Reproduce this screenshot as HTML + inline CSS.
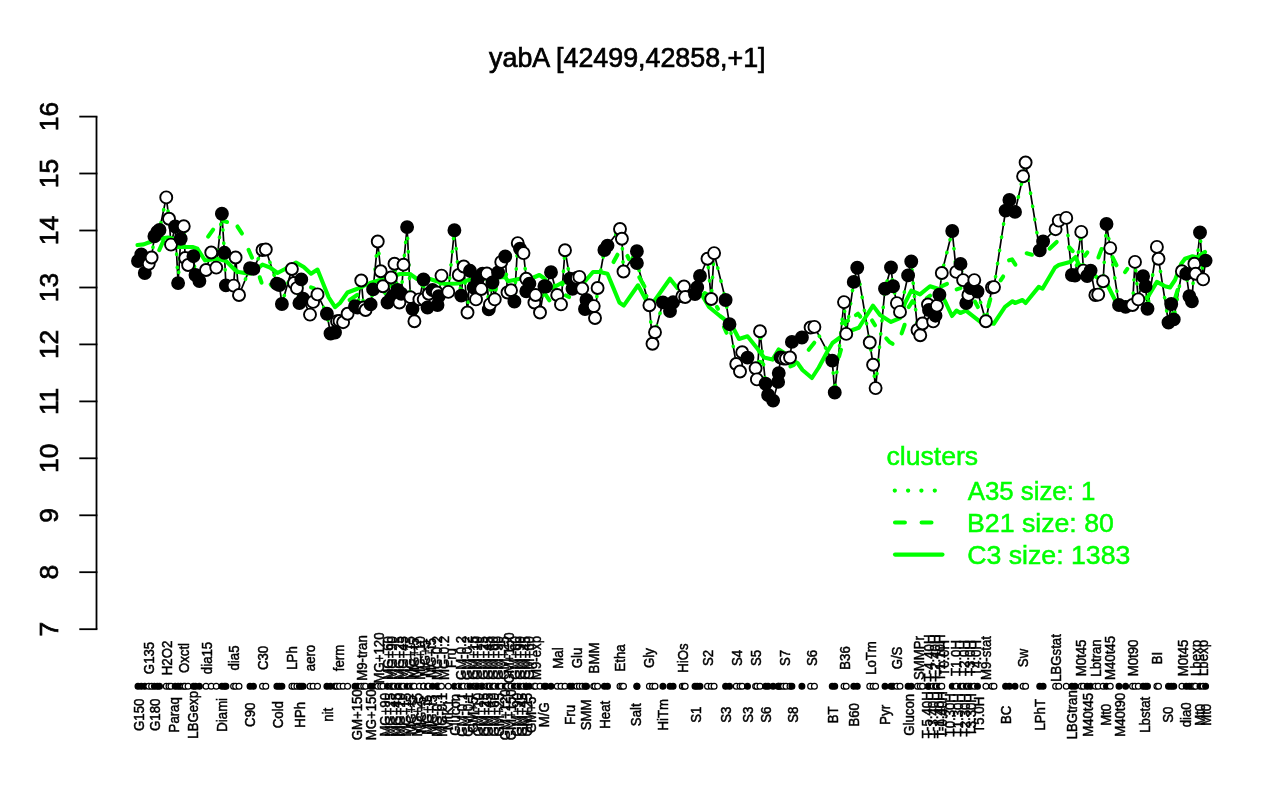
<!DOCTYPE html>
<html><head><meta charset="utf-8"><title>yabA</title>
<style>html,body{margin:0;padding:0;background:#fff;}body{width:1280px;height:800px;overflow:hidden;}svg{display:block;will-change:transform;}text{font-family:"Liberation Sans",sans-serif;}</style>
</head><body>
<svg width="1280" height="800" viewBox="0 0 1280 800">
<defs><filter id="soft" x="0" y="0" width="1280" height="800" filterUnits="userSpaceOnUse"><feGaussianBlur stdDeviation="0.35"/></filter></defs>
<rect x="0" y="0" width="1280" height="800" fill="#ffffff"/>
<g filter="url(#soft)">
<text x="627.3" y="67.2" font-size="26.8" text-anchor="middle" fill="#000" stroke="#000" stroke-width="0.7">yabA [42499,42858,+1]</text>
<g stroke="#000" stroke-width="1.8" fill="none" stroke-linecap="butt">
<path d="M96.5 116.6 V629.2"/>
<path d="M79.3 116.6 H97.4"/>
<path d="M79.3 173.5 H97.4"/>
<path d="M79.3 230.5 H97.4"/>
<path d="M79.3 287.5 H97.4"/>
<path d="M79.3 344.4 H97.4"/>
<path d="M79.3 401.4 H97.4"/>
<path d="M79.3 458.3 H97.4"/>
<path d="M79.3 515.3 H97.4"/>
<path d="M79.3 572.2 H97.4"/>
<path d="M79.3 629.2 H97.4"/>
</g>
<g font-size="26.4" text-anchor="middle" fill="#000" stroke="#000" stroke-width="0.7">
<text transform="translate(58 116.6) rotate(-90)">16</text>
<text transform="translate(58 173.5) rotate(-90)">15</text>
<text transform="translate(58 230.5) rotate(-90)">14</text>
<text transform="translate(58 287.5) rotate(-90)">13</text>
<text transform="translate(58 344.4) rotate(-90)">12</text>
<text transform="translate(58 401.4) rotate(-90)">11</text>
<text transform="translate(58 458.3) rotate(-90)">10</text>
<text transform="translate(58 515.3) rotate(-90)">9</text>
<text transform="translate(58 572.2) rotate(-90)">8</text>
<text transform="translate(58 629.2) rotate(-90)">7</text>
</g>
<path d="M138 261 L141.3 254.5 L144.8 273 L148.75 263.75 L151.6 257.5 L154.4 236.25 L157.25 232 L159.5 230 L166.25 197.4 L169 218.75 L171 244.6 L175.2 226.5 L178.1 283.1 L180.7 238.75 L183.75 226.25 L185.2 258 L188.1 265 L193.4 256.2 L195.5 275 L199.4 281 L206 270 L211.25 252.5 L216.25 267.6 L221.9 213.75 L224.4 252.8 L225.9 285.4 L233.6 285.6 L235.6 257.5 L239 295 L250 268.1 L253.4 268.9 L262.5 250 L265.8 249.5 L276.9 283.75 L279.4 285 L281.9 304 L291.9 269 L294 283 L296.9 288.1 L299.4 303.1 L301.25 279.4 L303.1 298.75 L310 314.6 L313.1 301.9 L317.5 294.4 L326.9 313.75 L330.5 333.5 L335 332.5 L337 321.25 L339.5 321 L343.1 322.2 L347.6 313.75 L355 306.25 L357.5 307.5 L361.25 280.5 L363.75 307.5 L365.6 310 L370.6 304.4 L373.1 289.4 L377.75 241.5 L380.7 271.25 L382.9 286.25 L387.5 302.5 L391 277.5 L392.5 296.25 L394.5 263.75 L397.5 290 L399.4 302.5 L401.25 293.75 L403.5 264.7 L407.1 227.1 L410.4 297.2 L412.5 308.75 L414.4 321.25 L419.4 299.4 L423.5 279.5 L423.75 299.4 L427.5 307.5 L428.75 293.75 L432.5 290 L436.9 292.5 L437.5 305 L438.75 296.25 L441.5 275.6 L448.3 291.9 L454.4 230.25 L458.75 275 L461.25 295.6 L463.75 266.5 L467.5 312.5 L470 270.8 L473.75 287.5 L476 299.4 L477.5 280 L481.25 289 L482.5 273.75 L486.9 273.5 L488.75 309.4 L490 304.4 L492.5 282.5 L494.75 299.4 L498.1 272.5 L501.25 261.9 L505.25 256.5 L507.5 292.5 L511 290.25 L514.4 301.5 L517.75 243.1 L520 248.75 L523.5 253.1 L526.25 278.75 L526.25 291.25 L529.4 283.75 L534.4 302.5 L535.6 295 L540 312.5 L544.4 286.25 L546 286.6 L551 272.25 L557.25 295 L561 304.4 L565 250.25 L570 278.75 L572.5 288.75 L576.9 278 L579.4 276.9 L582.25 288.6 L585 309 L586.5 300 L593.75 306.1 L595 318 L597.6 288 L604.4 250 L607.5 245.6 L620 229 L621.9 238.75 L623.5 271.5 L636.9 251.25 L636.9 263.1 L649.4 305.25 L652.5 343.75 L655 332.25 L662.9 302.4 L670 311 L673.1 302.3 L682.3 296.25 L684 286.5 L685.2 297 L695 294 L697.2 287.5 L700 276 L707.5 258.75 L711.25 299 L714.1 253.1 L725.6 300 L729.5 324.2 L736.25 364 L740 371.5 L742.2 352.2 L747.5 357.6 L755.6 368.3 L756.9 379.4 L760 331.25 L765.6 383.75 L768.1 395 L773.1 400.6 L778.1 381.9 L778.75 373.1 L780.6 357.5 L783.5 358.5 L786 358.5 L790 357.5 L791.9 341.9 L801.9 337.5 L810.6 327.5 L814.4 326.9 L832.25 360.6 L834.75 392.5 L844 302.1 L846.25 333.9 L853.75 281.9 L857.25 267.75 L869.75 342.5 L873.1 364.75 L875.6 388.1 L885 288.75 L891 267.5 L893.1 286.25 L896.9 303.1 L900 311.9 L908.1 275.4 L911.25 261.5 L917.5 330 L920.25 335.25 L922.5 323.5 L928 304.5 L929 310 L933.2 321.4 L935.5 315.7 L936.9 305.8 L939.4 294.6 L941.8 273 L952.25 231 L956.25 271.9 L960.5 263.9 L963.1 280.1 L966.25 303.1 L968.4 295 L970.6 288 L974.3 280.1 L977.5 291.5 L985.9 321.25 L992 287.5 L994 287.1 L1005.6 210.6 L1009.4 200 L1015 211.9 L1023.1 176.25 L1025.6 162.5 L1039.75 250.4 L1043.1 241.5 L1055.6 229.2 L1058.75 220.6 L1066.25 217.9 L1071.9 275 L1075 275.5 L1081.25 231.9 L1083.4 270.6 L1087.2 276 L1090.6 270.6 L1095.4 295 L1098.2 294.6 L1103.1 281.25 L1106.5 224 L1110.25 248.1 L1119 305 L1125.6 306.9 L1132.5 305 L1135 261.9 L1138.3 299.4 L1143.1 276.25 L1145.6 286.25 L1147.5 308.75 L1156.9 246.9 L1158.5 258.75 L1168.5 322.5 L1171.25 304 L1173.75 319.4 L1181.9 271.25 L1186.25 273.75 L1189.4 296.25 L1191.9 301.25 L1194.4 263.75 L1195.6 273.75 L1200 232.5 L1203.1 279.4 L1205.6 260.6" fill="none" stroke="#000" stroke-width="1.7" stroke-linejoin="round"/>
<path d="M137.5 245 L143.75 244.4 L151.9 241.25 L160 238.5 L168 237.5 L174 240 L177.5 247 L192.5 247 L197.5 248.75 L205 260.5 L217.5 258.75 L226 261 L235 270 L238.75 272 L246 273.3 L251 273.75 L262.5 264.6 L270 267.5 L277.5 273 L285 269 L296 262.5 L303.75 267 L311 273.75 L317.5 269.6 L322.5 282 L328.75 297.5 L335 307.2 L340 303 L347.5 292.5 L357.5 288.75 L370 283 L380 280 L390 277 L400 274 L410 274 L417 279 L430 279 L445 284 L457.5 283.5 L468.75 280 L480 279 L492 278 L505 276.9 L508 281.25 L520 278.75 L532.5 278 L539.4 275 L543.75 278 L552.5 288 L562.5 282.5 L575 282 L585 281.25 L593 272 L600 272 L607.5 273.75 L619.4 302.5 L623.75 305.6 L638 285.3 L646 300 L650 305 L655 300 L670 278.75 L677.5 288.2 L690 291 L702 295 L709 307 L720 316 L723.75 318.75 L733.75 329 L739 339 L747.5 336.25 L757.5 348.75 L764 357.5 L772.5 359.6 L778.75 349.4 L786 354 L792 360 L797.5 363 L802.5 370 L811.9 378 L818.75 367.5 L827.5 351.25 L832.5 343 L840 337.5 L852.5 330 L858.75 327.8 L865 318 L873 305.6 L880 315 L891 321.9 L900 318 L905 303 L911.25 290.6 L920 294.4 L930 286.25 L938.75 289 L946.25 303.75 L952 316 L956.5 310.6 L960.3 313 L966 310.6 L980 321.6 L993.75 323.75 L1005 306.9 L1012.5 301.25 L1015 303 L1022.5 300 L1025.6 303 L1038.75 286.9 L1042.5 288.75 L1055 267.5 L1058.75 265 L1070 262 L1075.6 257 L1078.75 264.5 L1088 270 L1096.25 276.9 L1107.5 285 L1115 300 L1125 303 L1138 301 L1147.5 297.5 L1156.9 281.9 L1165 286.25 L1170 287.5 L1175 280 L1181.25 263.75 L1185 258.75 L1192.5 256.25 L1197.5 257.5 L1205 251.9" fill="none" stroke="#00ff00" stroke-width="4.1" stroke-linejoin="round" stroke-linecap="round"/>
<g fill="none" stroke="#00ff00" stroke-width="4.1" stroke-linejoin="round" stroke-linecap="round">
<path d="M159.2 250.24 L163.3 241.01"/>
<path d="M208.14 236.6 L213.11 229.65"/>
<path d="M222.96 220.88 L227.04 221.97"/>
<path d="M237.49 226.53 L241.91 233.47"/>
<path d="M248.54 249.76 L252.06 257.74"/>
<path d="M259.75 277.29 L261.55 282.71"/>
<path d="M270.69 284.36 L272 286"/>
<path d="M311.04 287.36 L313.96 288.39"/>
<path d="M349.66 299.99 L357.09 295.01"/>
<path d="M490.46 289.72 L495.84 288.28"/>
<path d="M545.61 294.67 L549.39 300.33"/>
<path d="M565.98 295.49 L569.02 297.01"/>
<path d="M613.52 262.03 L617.48 254.72"/>
<path d="M627.39 255.98 L628.91 259.02"/>
<path d="M639.28 277.21 L644.47 286.54"/>
<path d="M704.71 293.04 L709.04 295.46"/>
<path d="M716.84 306.93 L718 308.75"/>
<path d="M723.95 327 L726.55 332.75"/>
<path d="M758.58 361.7 L761.92 362.3"/>
<path d="M790.4 366.45 L794 364.85"/>
<path d="M808.69 349.74 L814.31 342.76"/>
<path d="M839.05 356.44 L840.95 349.81"/>
<path d="M842.01 323.31 L847.99 320.74"/>
<path d="M855.91 315.18 L858 313.75 L860.31 316.64"/>
<path d="M872.07 320.44 L875.03 325.31"/>
<path d="M886.32 338.33 L889.5 342 L892.56 343.83"/>
<path d="M901.62 333.36 L904.63 324.79"/>
<path d="M908.61 307.08 L912.5 301.25 L914.18 302.76"/>
<path d="M926.88 298.09 L930.12 295.66"/>
<path d="M942.01 286.15 L946.99 283.95"/>
<path d="M956.65 289.36 L960.45 288.14"/>
<path d="M974.92 301.57 L977.88 307.03"/>
<path d="M988.29 306.44 L990.31 299.06"/>
<path d="M1000.61 280.33 L1003.14 276.52"/>
<path d="M1009.05 260.28 L1012 259.4 L1015.4 264.68"/>
<path d="M1026.66 253.29 L1031.94 254.71"/>
<path d="M1049.55 248.65 L1056.7 242"/>
<path d="M1069.12 247.08 L1072.68 251.17"/>
<path d="M1084.87 255.63 L1087.33 252.47"/>
<path d="M1098.39 257.47 L1101.61 249.03"/>
<path d="M1112.49 257.23 L1116.51 265.27"/>
<path d="M1125.04 272.11 L1127.36 268.89"/>
<path d="M1175.32 297.7 L1177.68 289.8"/>
<path d="M1199.68 255.67 L1204.67 252.58"/>
</g>
<path d="M138 261 L141.3 254.5 L144.8 273 L148.75 263.75 L151.6 257.5 L154.4 236.25 L157.25 232 L159.5 230 L166.25 197.4 L169 218.75 L171 244.6 L175.2 226.5 L178.1 283.1 L180.7 238.75 L183.75 226.25 L185.2 258 L188.1 265 L193.4 256.2 L195.5 275 L199.4 281 L206 270 L211.25 252.5 L216.25 267.6 L221.9 213.75 L224.4 252.8 L225.9 285.4 L233.6 285.6 L235.6 257.5 L239 295 L250 268.1 L253.4 268.9 L262.5 250 L265.8 249.5 L276.9 283.75 L279.4 285 L281.9 304 L291.9 269 L294 283 L296.9 288.1 L299.4 303.1 L301.25 279.4 L303.1 298.75 L310 314.6 L313.1 301.9 L317.5 294.4 L326.9 313.75 L330.5 333.5 L335 332.5 L337 321.25 L339.5 321 L343.1 322.2 L347.6 313.75 L355 306.25 L357.5 307.5 L361.25 280.5 L363.75 307.5 L365.6 310 L370.6 304.4 L373.1 289.4 L377.75 241.5 L380.7 271.25 L382.9 286.25 L387.5 302.5 L391 277.5 L392.5 296.25 L394.5 263.75 L397.5 290 L399.4 302.5 L401.25 293.75 L403.5 264.7 L407.1 227.1 L410.4 297.2 L412.5 308.75 L414.4 321.25 L419.4 299.4 L423.5 279.5 L423.75 299.4 L427.5 307.5 L428.75 293.75 L432.5 290 L436.9 292.5 L437.5 305 L438.75 296.25 L441.5 275.6 L448.3 291.9 L454.4 230.25 L458.75 275 L461.25 295.6 L463.75 266.5 L467.5 312.5 L470 270.8 L473.75 287.5 L476 299.4 L477.5 280 L481.25 289 L482.5 273.75 L486.9 273.5 L488.75 309.4 L490 304.4 L492.5 282.5 L494.75 299.4 L498.1 272.5 L501.25 261.9 L505.25 256.5 L507.5 292.5 L511 290.25 L514.4 301.5 L517.75 243.1 L520 248.75 L523.5 253.1 L526.25 278.75 L526.25 291.25 L529.4 283.75 L534.4 302.5 L535.6 295 L540 312.5 L544.4 286.25 L546 286.6 L551 272.25 L557.25 295 L561 304.4 L565 250.25 L570 278.75 L572.5 288.75 L576.9 278 L579.4 276.9 L582.25 288.6 L585 309 L586.5 300 L593.75 306.1 L595 318 L597.6 288 L604.4 250 L607.5 245.6 L620 229 L621.9 238.75 L623.5 271.5 L636.9 251.25 L636.9 263.1 L649.4 305.25 L652.5 343.75 L655 332.25 L662.9 302.4 L670 311 L673.1 302.3 L682.3 296.25 L684 286.5 L685.2 297 L695 294 L697.2 287.5 L700 276 L707.5 258.75 L711.25 299 L714.1 253.1 L725.6 300 L729.5 324.2 L736.25 364 L740 371.5 L742.2 352.2 L747.5 357.6 L755.6 368.3 L756.9 379.4 L760 331.25 L765.6 383.75 L768.1 395 L773.1 400.6 L778.1 381.9 L778.75 373.1 L780.6 357.5 L783.5 358.5 L786 358.5 L790 357.5 L791.9 341.9 L801.9 337.5 L810.6 327.5 L814.4 326.9 L832.25 360.6 L834.75 392.5 L844 302.1 L846.25 333.9 L853.75 281.9 L857.25 267.75 L869.75 342.5 L873.1 364.75 L875.6 388.1 L885 288.75 L891 267.5 L893.1 286.25 L896.9 303.1 L900 311.9 L908.1 275.4 L911.25 261.5 L917.5 330 L920.25 335.25 L922.5 323.5 L928 304.5 L929 310 L933.2 321.4 L935.5 315.7 L936.9 305.8 L939.4 294.6 L941.8 273 L952.25 231 L956.25 271.9 L960.5 263.9 L963.1 280.1 L966.25 303.1 L968.4 295 L970.6 288 L974.3 280.1 L977.5 291.5 L985.9 321.25 L992 287.5 L994 287.1 L1005.6 210.6 L1009.4 200 L1015 211.9 L1023.1 176.25 L1025.6 162.5 L1039.75 250.4 L1043.1 241.5 L1055.6 229.2 L1058.75 220.6 L1066.25 217.9 L1071.9 275 L1075 275.5 L1081.25 231.9 L1083.4 270.6 L1087.2 276 L1090.6 270.6 L1095.4 295 L1098.2 294.6 L1103.1 281.25 L1106.5 224 L1110.25 248.1 L1119 305 L1125.6 306.9 L1132.5 305 L1135 261.9 L1138.3 299.4 L1143.1 276.25 L1145.6 286.25 L1147.5 308.75 L1156.9 246.9 L1158.5 258.75 L1168.5 322.5 L1171.25 304 L1173.75 319.4 L1181.9 271.25 L1186.25 273.75 L1189.4 296.25 L1191.9 301.25 L1194.4 263.75 L1195.6 273.75 L1200 232.5 L1203.1 279.4 L1205.6 260.6" fill="none" stroke="#00ff00" stroke-width="3.6" stroke-dasharray="0.3 13" stroke-linecap="round" stroke-linejoin="round"/>
<g stroke="#000" stroke-width="1.9">
<circle cx="138" cy="261" r="6" fill="#000"/>
<circle cx="141.3" cy="254.5" r="6" fill="#000"/>
<circle cx="144.8" cy="273" r="6" fill="#000"/>
<circle cx="148.75" cy="263.75" r="6" fill="#fff"/>
<circle cx="151.6" cy="257.5" r="6" fill="#fff"/>
<circle cx="154.4" cy="236.25" r="6" fill="#000"/>
<circle cx="157.25" cy="232" r="6" fill="#000"/>
<circle cx="159.5" cy="230" r="6" fill="#000"/>
<circle cx="166.25" cy="197.4" r="6" fill="#fff"/>
<circle cx="169" cy="218.75" r="6" fill="#fff"/>
<circle cx="171" cy="244.6" r="6" fill="#fff"/>
<circle cx="175.2" cy="226.5" r="6" fill="#000"/>
<circle cx="178.1" cy="283.1" r="6" fill="#000"/>
<circle cx="180.7" cy="238.75" r="6" fill="#000"/>
<circle cx="183.75" cy="226.25" r="6" fill="#fff"/>
<circle cx="185.2" cy="258" r="6" fill="#fff"/>
<circle cx="188.1" cy="265" r="6" fill="#fff"/>
<circle cx="193.4" cy="256.2" r="6" fill="#000"/>
<circle cx="195.5" cy="275" r="6" fill="#000"/>
<circle cx="199.4" cy="281" r="6" fill="#000"/>
<circle cx="206" cy="270" r="6" fill="#fff"/>
<circle cx="211.25" cy="252.5" r="6" fill="#fff"/>
<circle cx="216.25" cy="267.6" r="6" fill="#fff"/>
<circle cx="221.9" cy="213.75" r="6" fill="#000"/>
<circle cx="224.4" cy="252.8" r="6" fill="#000"/>
<circle cx="225.9" cy="285.4" r="6" fill="#000"/>
<circle cx="233.6" cy="285.6" r="6" fill="#fff"/>
<circle cx="235.6" cy="257.5" r="6" fill="#fff"/>
<circle cx="239" cy="295" r="6" fill="#fff"/>
<circle cx="250" cy="268.1" r="6" fill="#000"/>
<circle cx="253.4" cy="268.9" r="6" fill="#000"/>
<circle cx="262.5" cy="250" r="6" fill="#fff"/>
<circle cx="265.8" cy="249.5" r="6" fill="#fff"/>
<circle cx="276.9" cy="283.75" r="6" fill="#000"/>
<circle cx="279.4" cy="285" r="6" fill="#000"/>
<circle cx="281.9" cy="304" r="6" fill="#000"/>
<circle cx="291.9" cy="269" r="6" fill="#fff"/>
<circle cx="294" cy="283" r="6" fill="#fff"/>
<circle cx="296.9" cy="288.1" r="6" fill="#fff"/>
<circle cx="299.4" cy="303.1" r="6" fill="#000"/>
<circle cx="301.25" cy="279.4" r="6" fill="#000"/>
<circle cx="303.1" cy="298.75" r="6" fill="#000"/>
<circle cx="310" cy="314.6" r="6" fill="#fff"/>
<circle cx="313.1" cy="301.9" r="6" fill="#fff"/>
<circle cx="317.5" cy="294.4" r="6" fill="#fff"/>
<circle cx="326.9" cy="313.75" r="6" fill="#000"/>
<circle cx="330.5" cy="333.5" r="6" fill="#000"/>
<circle cx="335" cy="332.5" r="6" fill="#000"/>
<circle cx="337" cy="321.25" r="6" fill="#fff"/>
<circle cx="339.5" cy="321" r="6" fill="#fff"/>
<circle cx="343.1" cy="322.2" r="6" fill="#fff"/>
<circle cx="347.6" cy="313.75" r="6" fill="#fff"/>
<circle cx="355" cy="306.25" r="6" fill="#000"/>
<circle cx="357.5" cy="307.5" r="6" fill="#000"/>
<circle cx="361.25" cy="280.5" r="6" fill="#fff"/>
<circle cx="363.75" cy="307.5" r="6" fill="#fff"/>
<circle cx="365.6" cy="310" r="6" fill="#fff"/>
<circle cx="370.6" cy="304.4" r="6" fill="#000"/>
<circle cx="373.1" cy="289.4" r="6" fill="#000"/>
<circle cx="377.75" cy="241.5" r="6" fill="#fff"/>
<circle cx="380.7" cy="271.25" r="6" fill="#fff"/>
<circle cx="382.9" cy="286.25" r="6" fill="#fff"/>
<circle cx="387.5" cy="302.5" r="6" fill="#000"/>
<circle cx="391" cy="277.5" r="6" fill="#fff"/>
<circle cx="392.5" cy="296.25" r="6" fill="#000"/>
<circle cx="394.5" cy="263.75" r="6" fill="#fff"/>
<circle cx="397.5" cy="290" r="6" fill="#000"/>
<circle cx="399.4" cy="302.5" r="6" fill="#fff"/>
<circle cx="401.25" cy="293.75" r="6" fill="#000"/>
<circle cx="403.5" cy="264.7" r="6" fill="#fff"/>
<circle cx="407.1" cy="227.1" r="6" fill="#000"/>
<circle cx="410.4" cy="297.2" r="6" fill="#fff"/>
<circle cx="412.5" cy="308.75" r="6" fill="#000"/>
<circle cx="414.4" cy="321.25" r="6" fill="#fff"/>
<circle cx="419.4" cy="299.4" r="6" fill="#fff"/>
<circle cx="423.5" cy="279.5" r="6" fill="#000"/>
<circle cx="423.75" cy="299.4" r="6" fill="#fff"/>
<circle cx="427.5" cy="307.5" r="6" fill="#000"/>
<circle cx="428.75" cy="293.75" r="6" fill="#fff"/>
<circle cx="432.5" cy="290" r="6" fill="#000"/>
<circle cx="436.9" cy="292.5" r="6" fill="#fff"/>
<circle cx="437.5" cy="305" r="6" fill="#000"/>
<circle cx="438.75" cy="296.25" r="6" fill="#000"/>
<circle cx="441.5" cy="275.6" r="6" fill="#fff"/>
<circle cx="448.3" cy="291.9" r="6" fill="#fff"/>
<circle cx="454.4" cy="230.25" r="6" fill="#000"/>
<circle cx="458.75" cy="275" r="6" fill="#fff"/>
<circle cx="461.25" cy="295.6" r="6" fill="#000"/>
<circle cx="463.75" cy="266.5" r="6" fill="#fff"/>
<circle cx="467.5" cy="312.5" r="6" fill="#fff"/>
<circle cx="470" cy="270.8" r="6" fill="#000"/>
<circle cx="473.75" cy="287.5" r="6" fill="#000"/>
<circle cx="476" cy="299.4" r="6" fill="#fff"/>
<circle cx="477.5" cy="280" r="6" fill="#000"/>
<circle cx="481.25" cy="289" r="6" fill="#fff"/>
<circle cx="482.5" cy="273.75" r="6" fill="#000"/>
<circle cx="486.9" cy="273.5" r="6" fill="#fff"/>
<circle cx="488.75" cy="309.4" r="6" fill="#000"/>
<circle cx="490" cy="304.4" r="6" fill="#fff"/>
<circle cx="492.5" cy="282.5" r="6" fill="#000"/>
<circle cx="494.75" cy="299.4" r="6" fill="#fff"/>
<circle cx="498.1" cy="272.5" r="6" fill="#000"/>
<circle cx="501.25" cy="261.9" r="6" fill="#fff"/>
<circle cx="505.25" cy="256.5" r="6" fill="#000"/>
<circle cx="507.5" cy="292.5" r="6" fill="#fff"/>
<circle cx="511" cy="290.25" r="6" fill="#fff"/>
<circle cx="514.4" cy="301.5" r="6" fill="#000"/>
<circle cx="517.75" cy="243.1" r="6" fill="#fff"/>
<circle cx="520" cy="248.75" r="6" fill="#000"/>
<circle cx="523.5" cy="253.1" r="6" fill="#fff"/>
<circle cx="526.25" cy="278.75" r="6" fill="#fff"/>
<circle cx="526.25" cy="291.25" r="6" fill="#000"/>
<circle cx="529.4" cy="283.75" r="6" fill="#000"/>
<circle cx="534.4" cy="302.5" r="6" fill="#fff"/>
<circle cx="535.6" cy="295" r="6" fill="#fff"/>
<circle cx="540" cy="312.5" r="6" fill="#fff"/>
<circle cx="544.4" cy="286.25" r="6" fill="#000"/>
<circle cx="546" cy="286.6" r="6" fill="#000"/>
<circle cx="551" cy="272.25" r="6" fill="#000"/>
<circle cx="557.25" cy="295" r="6" fill="#fff"/>
<circle cx="561" cy="304.4" r="6" fill="#fff"/>
<circle cx="565" cy="250.25" r="6" fill="#fff"/>
<circle cx="570" cy="278.75" r="6" fill="#000"/>
<circle cx="572.5" cy="288.75" r="6" fill="#000"/>
<circle cx="576.9" cy="278" r="6" fill="#fff"/>
<circle cx="579.4" cy="276.9" r="6" fill="#fff"/>
<circle cx="582.25" cy="288.6" r="6" fill="#fff"/>
<circle cx="585" cy="309" r="6" fill="#000"/>
<circle cx="586.5" cy="300" r="6" fill="#000"/>
<circle cx="593.75" cy="306.1" r="6" fill="#fff"/>
<circle cx="595" cy="318" r="6" fill="#fff"/>
<circle cx="597.6" cy="288" r="6" fill="#fff"/>
<circle cx="604.4" cy="250" r="6" fill="#000"/>
<circle cx="607.5" cy="245.6" r="6" fill="#000"/>
<circle cx="620" cy="229" r="6" fill="#fff"/>
<circle cx="621.9" cy="238.75" r="6" fill="#fff"/>
<circle cx="623.5" cy="271.5" r="6" fill="#fff"/>
<circle cx="636.9" cy="251.25" r="6" fill="#000"/>
<circle cx="636.9" cy="263.1" r="6" fill="#000"/>
<circle cx="649.4" cy="305.25" r="6" fill="#fff"/>
<circle cx="652.5" cy="343.75" r="6" fill="#fff"/>
<circle cx="655" cy="332.25" r="6" fill="#fff"/>
<circle cx="662.9" cy="302.4" r="6" fill="#000"/>
<circle cx="670" cy="311" r="6" fill="#000"/>
<circle cx="673.1" cy="302.3" r="6" fill="#000"/>
<circle cx="682.3" cy="296.25" r="6" fill="#fff"/>
<circle cx="684" cy="286.5" r="6" fill="#fff"/>
<circle cx="685.2" cy="297" r="6" fill="#fff"/>
<circle cx="695" cy="294" r="6" fill="#000"/>
<circle cx="697.2" cy="287.5" r="6" fill="#000"/>
<circle cx="700" cy="276" r="6" fill="#000"/>
<circle cx="707.5" cy="258.75" r="6" fill="#fff"/>
<circle cx="711.25" cy="299" r="6" fill="#fff"/>
<circle cx="714.1" cy="253.1" r="6" fill="#fff"/>
<circle cx="725.6" cy="300" r="6" fill="#000"/>
<circle cx="729.5" cy="324.2" r="6" fill="#000"/>
<circle cx="736.25" cy="364" r="6" fill="#fff"/>
<circle cx="740" cy="371.5" r="6" fill="#fff"/>
<circle cx="742.2" cy="352.2" r="6" fill="#fff"/>
<circle cx="747.5" cy="357.6" r="6" fill="#000"/>
<circle cx="755.6" cy="368.3" r="6" fill="#fff"/>
<circle cx="756.9" cy="379.4" r="6" fill="#fff"/>
<circle cx="760" cy="331.25" r="6" fill="#fff"/>
<circle cx="765.6" cy="383.75" r="6" fill="#000"/>
<circle cx="768.1" cy="395" r="6" fill="#000"/>
<circle cx="773.1" cy="400.6" r="6" fill="#000"/>
<circle cx="778.1" cy="381.9" r="6" fill="#000"/>
<circle cx="778.75" cy="373.1" r="6" fill="#000"/>
<circle cx="780.6" cy="357.5" r="6" fill="#000"/>
<circle cx="783.5" cy="358.5" r="6" fill="#fff"/>
<circle cx="786" cy="358.5" r="6" fill="#fff"/>
<circle cx="790" cy="357.5" r="6" fill="#fff"/>
<circle cx="791.9" cy="341.9" r="6" fill="#000"/>
<circle cx="801.9" cy="337.5" r="6" fill="#000"/>
<circle cx="810.6" cy="327.5" r="6" fill="#fff"/>
<circle cx="814.4" cy="326.9" r="6" fill="#fff"/>
<circle cx="832.25" cy="360.6" r="6" fill="#000"/>
<circle cx="834.75" cy="392.5" r="6" fill="#000"/>
<circle cx="844" cy="302.1" r="6" fill="#fff"/>
<circle cx="846.25" cy="333.9" r="6" fill="#fff"/>
<circle cx="853.75" cy="281.9" r="6" fill="#000"/>
<circle cx="857.25" cy="267.75" r="6" fill="#000"/>
<circle cx="869.75" cy="342.5" r="6" fill="#fff"/>
<circle cx="873.1" cy="364.75" r="6" fill="#fff"/>
<circle cx="875.6" cy="388.1" r="6" fill="#fff"/>
<circle cx="885" cy="288.75" r="6" fill="#000"/>
<circle cx="891" cy="267.5" r="6" fill="#000"/>
<circle cx="893.1" cy="286.25" r="6" fill="#000"/>
<circle cx="896.9" cy="303.1" r="6" fill="#fff"/>
<circle cx="900" cy="311.9" r="6" fill="#fff"/>
<circle cx="908.1" cy="275.4" r="6" fill="#000"/>
<circle cx="911.25" cy="261.5" r="6" fill="#000"/>
<circle cx="917.5" cy="330" r="6" fill="#fff"/>
<circle cx="920.25" cy="335.25" r="6" fill="#fff"/>
<circle cx="922.5" cy="323.5" r="6" fill="#fff"/>
<circle cx="928" cy="304.5" r="6" fill="#fff"/>
<circle cx="929" cy="310" r="6" fill="#000"/>
<circle cx="933.2" cy="321.4" r="6" fill="#fff"/>
<circle cx="935.5" cy="315.7" r="6" fill="#000"/>
<circle cx="936.9" cy="305.8" r="6" fill="#fff"/>
<circle cx="939.4" cy="294.6" r="6" fill="#000"/>
<circle cx="941.8" cy="273" r="6" fill="#fff"/>
<circle cx="952.25" cy="231" r="6" fill="#000"/>
<circle cx="956.25" cy="271.9" r="6" fill="#fff"/>
<circle cx="960.5" cy="263.9" r="6" fill="#000"/>
<circle cx="963.1" cy="280.1" r="6" fill="#fff"/>
<circle cx="966.25" cy="303.1" r="6" fill="#000"/>
<circle cx="968.4" cy="295" r="6" fill="#fff"/>
<circle cx="970.6" cy="288" r="6" fill="#000"/>
<circle cx="974.3" cy="280.1" r="6" fill="#fff"/>
<circle cx="977.5" cy="291.5" r="6" fill="#000"/>
<circle cx="985.9" cy="321.25" r="6" fill="#fff"/>
<circle cx="992" cy="287.5" r="6" fill="#fff"/>
<circle cx="994" cy="287.1" r="6" fill="#fff"/>
<circle cx="1005.6" cy="210.6" r="6" fill="#000"/>
<circle cx="1009.4" cy="200" r="6" fill="#000"/>
<circle cx="1015" cy="211.9" r="6" fill="#000"/>
<circle cx="1023.1" cy="176.25" r="6" fill="#fff"/>
<circle cx="1025.6" cy="162.5" r="6" fill="#fff"/>
<circle cx="1039.75" cy="250.4" r="6" fill="#000"/>
<circle cx="1043.1" cy="241.5" r="6" fill="#000"/>
<circle cx="1055.6" cy="229.2" r="6" fill="#fff"/>
<circle cx="1058.75" cy="220.6" r="6" fill="#fff"/>
<circle cx="1066.25" cy="217.9" r="6" fill="#fff"/>
<circle cx="1071.9" cy="275" r="6" fill="#000"/>
<circle cx="1075" cy="275.5" r="6" fill="#000"/>
<circle cx="1081.25" cy="231.9" r="6" fill="#fff"/>
<circle cx="1083.4" cy="270.6" r="6" fill="#fff"/>
<circle cx="1087.2" cy="276" r="6" fill="#000"/>
<circle cx="1090.6" cy="270.6" r="6" fill="#000"/>
<circle cx="1095.4" cy="295" r="6" fill="#fff"/>
<circle cx="1098.2" cy="294.6" r="6" fill="#fff"/>
<circle cx="1103.1" cy="281.25" r="6" fill="#fff"/>
<circle cx="1106.5" cy="224" r="6" fill="#000"/>
<circle cx="1110.25" cy="248.1" r="6" fill="#fff"/>
<circle cx="1119" cy="305" r="6" fill="#000"/>
<circle cx="1125.6" cy="306.9" r="6" fill="#000"/>
<circle cx="1132.5" cy="305" r="6" fill="#fff"/>
<circle cx="1135" cy="261.9" r="6" fill="#fff"/>
<circle cx="1138.3" cy="299.4" r="6" fill="#fff"/>
<circle cx="1143.1" cy="276.25" r="6" fill="#000"/>
<circle cx="1145.6" cy="286.25" r="6" fill="#000"/>
<circle cx="1147.5" cy="308.75" r="6" fill="#000"/>
<circle cx="1156.9" cy="246.9" r="6" fill="#fff"/>
<circle cx="1158.5" cy="258.75" r="6" fill="#fff"/>
<circle cx="1168.5" cy="322.5" r="6" fill="#000"/>
<circle cx="1171.25" cy="304" r="6" fill="#000"/>
<circle cx="1173.75" cy="319.4" r="6" fill="#000"/>
<circle cx="1181.9" cy="271.25" r="6" fill="#fff"/>
<circle cx="1186.25" cy="273.75" r="6" fill="#000"/>
<circle cx="1189.4" cy="296.25" r="6" fill="#000"/>
<circle cx="1191.9" cy="301.25" r="6" fill="#000"/>
<circle cx="1194.4" cy="263.75" r="6" fill="#fff"/>
<circle cx="1195.6" cy="273.75" r="6" fill="#fff"/>
<circle cx="1200" cy="232.5" r="6" fill="#000"/>
<circle cx="1203.1" cy="279.4" r="6" fill="#fff"/>
<circle cx="1205.6" cy="260.6" r="6" fill="#000"/>
</g>
<g stroke="#000" stroke-width="1.2">
<circle cx="138" cy="686.3" r="2.9" fill="#000"/>
<circle cx="141.3" cy="686.3" r="2.9" fill="#000"/>
<circle cx="144.8" cy="686.3" r="2.9" fill="#000"/>
<circle cx="148.75" cy="686.3" r="2.9" fill="#fff"/>
<circle cx="151.6" cy="686.3" r="2.9" fill="#fff"/>
<circle cx="154.4" cy="686.3" r="2.9" fill="#000"/>
<circle cx="157.25" cy="686.3" r="2.9" fill="#000"/>
<circle cx="159.5" cy="686.3" r="2.9" fill="#000"/>
<circle cx="166.25" cy="686.3" r="2.9" fill="#fff"/>
<circle cx="169" cy="686.3" r="2.9" fill="#fff"/>
<circle cx="171" cy="686.3" r="2.9" fill="#fff"/>
<circle cx="175.2" cy="686.3" r="2.9" fill="#000"/>
<circle cx="178.1" cy="686.3" r="2.9" fill="#000"/>
<circle cx="180.7" cy="686.3" r="2.9" fill="#000"/>
<circle cx="183.75" cy="686.3" r="2.9" fill="#fff"/>
<circle cx="185.2" cy="686.3" r="2.9" fill="#fff"/>
<circle cx="188.1" cy="686.3" r="2.9" fill="#fff"/>
<circle cx="193.4" cy="686.3" r="2.9" fill="#000"/>
<circle cx="195.5" cy="686.3" r="2.9" fill="#000"/>
<circle cx="199.4" cy="686.3" r="2.9" fill="#000"/>
<circle cx="206" cy="686.3" r="2.9" fill="#fff"/>
<circle cx="211.25" cy="686.3" r="2.9" fill="#fff"/>
<circle cx="216.25" cy="686.3" r="2.9" fill="#fff"/>
<circle cx="221.9" cy="686.3" r="2.9" fill="#000"/>
<circle cx="224.4" cy="686.3" r="2.9" fill="#000"/>
<circle cx="225.9" cy="686.3" r="2.9" fill="#000"/>
<circle cx="233.6" cy="686.3" r="2.9" fill="#fff"/>
<circle cx="235.6" cy="686.3" r="2.9" fill="#fff"/>
<circle cx="239" cy="686.3" r="2.9" fill="#fff"/>
<circle cx="250" cy="686.3" r="2.9" fill="#000"/>
<circle cx="253.4" cy="686.3" r="2.9" fill="#000"/>
<circle cx="262.5" cy="686.3" r="2.9" fill="#fff"/>
<circle cx="265.8" cy="686.3" r="2.9" fill="#fff"/>
<circle cx="276.9" cy="686.3" r="2.9" fill="#000"/>
<circle cx="279.4" cy="686.3" r="2.9" fill="#000"/>
<circle cx="281.9" cy="686.3" r="2.9" fill="#000"/>
<circle cx="291.9" cy="686.3" r="2.9" fill="#fff"/>
<circle cx="294" cy="686.3" r="2.9" fill="#fff"/>
<circle cx="296.9" cy="686.3" r="2.9" fill="#fff"/>
<circle cx="299.4" cy="686.3" r="2.9" fill="#000"/>
<circle cx="301.25" cy="686.3" r="2.9" fill="#000"/>
<circle cx="303.1" cy="686.3" r="2.9" fill="#000"/>
<circle cx="310" cy="686.3" r="2.9" fill="#fff"/>
<circle cx="313.1" cy="686.3" r="2.9" fill="#fff"/>
<circle cx="317.5" cy="686.3" r="2.9" fill="#fff"/>
<circle cx="326.9" cy="686.3" r="2.9" fill="#000"/>
<circle cx="330.5" cy="686.3" r="2.9" fill="#000"/>
<circle cx="335" cy="686.3" r="2.9" fill="#000"/>
<circle cx="337" cy="686.3" r="2.9" fill="#fff"/>
<circle cx="339.5" cy="686.3" r="2.9" fill="#fff"/>
<circle cx="343.1" cy="686.3" r="2.9" fill="#fff"/>
<circle cx="347.6" cy="686.3" r="2.9" fill="#fff"/>
<circle cx="355" cy="686.3" r="2.9" fill="#000"/>
<circle cx="357.5" cy="686.3" r="2.9" fill="#000"/>
<circle cx="361.25" cy="686.3" r="2.9" fill="#fff"/>
<circle cx="363.75" cy="686.3" r="2.9" fill="#fff"/>
<circle cx="365.6" cy="686.3" r="2.9" fill="#fff"/>
<circle cx="370.6" cy="686.3" r="2.9" fill="#000"/>
<circle cx="373.1" cy="686.3" r="2.9" fill="#000"/>
<circle cx="377.75" cy="686.3" r="2.9" fill="#fff"/>
<circle cx="380.7" cy="686.3" r="2.9" fill="#fff"/>
<circle cx="382.9" cy="686.3" r="2.9" fill="#fff"/>
<circle cx="387.5" cy="686.3" r="2.9" fill="#000"/>
<circle cx="391" cy="686.3" r="2.9" fill="#fff"/>
<circle cx="392.5" cy="686.3" r="2.9" fill="#000"/>
<circle cx="394.5" cy="686.3" r="2.9" fill="#fff"/>
<circle cx="397.5" cy="686.3" r="2.9" fill="#000"/>
<circle cx="399.4" cy="686.3" r="2.9" fill="#fff"/>
<circle cx="401.25" cy="686.3" r="2.9" fill="#000"/>
<circle cx="403.5" cy="686.3" r="2.9" fill="#fff"/>
<circle cx="407.1" cy="686.3" r="2.9" fill="#000"/>
<circle cx="410.4" cy="686.3" r="2.9" fill="#fff"/>
<circle cx="412.5" cy="686.3" r="2.9" fill="#000"/>
<circle cx="414.4" cy="686.3" r="2.9" fill="#fff"/>
<circle cx="419.4" cy="686.3" r="2.9" fill="#fff"/>
<circle cx="423.5" cy="686.3" r="2.9" fill="#000"/>
<circle cx="423.75" cy="686.3" r="2.9" fill="#fff"/>
<circle cx="427.5" cy="686.3" r="2.9" fill="#000"/>
<circle cx="428.75" cy="686.3" r="2.9" fill="#fff"/>
<circle cx="432.5" cy="686.3" r="2.9" fill="#000"/>
<circle cx="436.9" cy="686.3" r="2.9" fill="#fff"/>
<circle cx="437.5" cy="686.3" r="2.9" fill="#000"/>
<circle cx="438.75" cy="686.3" r="2.9" fill="#000"/>
<circle cx="441.5" cy="686.3" r="2.9" fill="#fff"/>
<circle cx="448.3" cy="686.3" r="2.9" fill="#fff"/>
<circle cx="454.4" cy="686.3" r="2.9" fill="#000"/>
<circle cx="458.75" cy="686.3" r="2.9" fill="#fff"/>
<circle cx="461.25" cy="686.3" r="2.9" fill="#000"/>
<circle cx="463.75" cy="686.3" r="2.9" fill="#fff"/>
<circle cx="467.5" cy="686.3" r="2.9" fill="#fff"/>
<circle cx="470" cy="686.3" r="2.9" fill="#000"/>
<circle cx="473.75" cy="686.3" r="2.9" fill="#000"/>
<circle cx="476" cy="686.3" r="2.9" fill="#fff"/>
<circle cx="477.5" cy="686.3" r="2.9" fill="#000"/>
<circle cx="481.25" cy="686.3" r="2.9" fill="#fff"/>
<circle cx="482.5" cy="686.3" r="2.9" fill="#000"/>
<circle cx="486.9" cy="686.3" r="2.9" fill="#fff"/>
<circle cx="488.75" cy="686.3" r="2.9" fill="#000"/>
<circle cx="490" cy="686.3" r="2.9" fill="#fff"/>
<circle cx="492.5" cy="686.3" r="2.9" fill="#000"/>
<circle cx="494.75" cy="686.3" r="2.9" fill="#fff"/>
<circle cx="498.1" cy="686.3" r="2.9" fill="#000"/>
<circle cx="501.25" cy="686.3" r="2.9" fill="#fff"/>
<circle cx="505.25" cy="686.3" r="2.9" fill="#000"/>
<circle cx="507.5" cy="686.3" r="2.9" fill="#fff"/>
<circle cx="511" cy="686.3" r="2.9" fill="#fff"/>
<circle cx="514.4" cy="686.3" r="2.9" fill="#000"/>
<circle cx="517.75" cy="686.3" r="2.9" fill="#fff"/>
<circle cx="520" cy="686.3" r="2.9" fill="#000"/>
<circle cx="523.5" cy="686.3" r="2.9" fill="#fff"/>
<circle cx="526.25" cy="686.3" r="2.9" fill="#fff"/>
<circle cx="526.25" cy="686.3" r="2.9" fill="#000"/>
<circle cx="529.4" cy="686.3" r="2.9" fill="#000"/>
<circle cx="534.4" cy="686.3" r="2.9" fill="#fff"/>
<circle cx="535.6" cy="686.3" r="2.9" fill="#fff"/>
<circle cx="540" cy="686.3" r="2.9" fill="#fff"/>
<circle cx="544.4" cy="686.3" r="2.9" fill="#000"/>
<circle cx="546" cy="686.3" r="2.9" fill="#000"/>
<circle cx="551" cy="686.3" r="2.9" fill="#000"/>
<circle cx="557.25" cy="686.3" r="2.9" fill="#fff"/>
<circle cx="561" cy="686.3" r="2.9" fill="#fff"/>
<circle cx="565" cy="686.3" r="2.9" fill="#fff"/>
<circle cx="570" cy="686.3" r="2.9" fill="#000"/>
<circle cx="572.5" cy="686.3" r="2.9" fill="#000"/>
<circle cx="576.9" cy="686.3" r="2.9" fill="#fff"/>
<circle cx="579.4" cy="686.3" r="2.9" fill="#fff"/>
<circle cx="582.25" cy="686.3" r="2.9" fill="#fff"/>
<circle cx="585" cy="686.3" r="2.9" fill="#000"/>
<circle cx="586.5" cy="686.3" r="2.9" fill="#000"/>
<circle cx="593.75" cy="686.3" r="2.9" fill="#fff"/>
<circle cx="595" cy="686.3" r="2.9" fill="#fff"/>
<circle cx="597.6" cy="686.3" r="2.9" fill="#fff"/>
<circle cx="604.4" cy="686.3" r="2.9" fill="#000"/>
<circle cx="607.5" cy="686.3" r="2.9" fill="#000"/>
<circle cx="620" cy="686.3" r="2.9" fill="#fff"/>
<circle cx="621.9" cy="686.3" r="2.9" fill="#fff"/>
<circle cx="623.5" cy="686.3" r="2.9" fill="#fff"/>
<circle cx="636.9" cy="686.3" r="2.9" fill="#000"/>
<circle cx="636.9" cy="686.3" r="2.9" fill="#000"/>
<circle cx="649.4" cy="686.3" r="2.9" fill="#fff"/>
<circle cx="652.5" cy="686.3" r="2.9" fill="#fff"/>
<circle cx="655" cy="686.3" r="2.9" fill="#fff"/>
<circle cx="662.9" cy="686.3" r="2.9" fill="#000"/>
<circle cx="670" cy="686.3" r="2.9" fill="#000"/>
<circle cx="673.1" cy="686.3" r="2.9" fill="#000"/>
<circle cx="682.3" cy="686.3" r="2.9" fill="#fff"/>
<circle cx="684" cy="686.3" r="2.9" fill="#fff"/>
<circle cx="685.2" cy="686.3" r="2.9" fill="#fff"/>
<circle cx="695" cy="686.3" r="2.9" fill="#000"/>
<circle cx="697.2" cy="686.3" r="2.9" fill="#000"/>
<circle cx="700" cy="686.3" r="2.9" fill="#000"/>
<circle cx="707.5" cy="686.3" r="2.9" fill="#fff"/>
<circle cx="711.25" cy="686.3" r="2.9" fill="#fff"/>
<circle cx="714.1" cy="686.3" r="2.9" fill="#fff"/>
<circle cx="725.6" cy="686.3" r="2.9" fill="#000"/>
<circle cx="729.5" cy="686.3" r="2.9" fill="#000"/>
<circle cx="736.25" cy="686.3" r="2.9" fill="#fff"/>
<circle cx="740" cy="686.3" r="2.9" fill="#fff"/>
<circle cx="742.2" cy="686.3" r="2.9" fill="#fff"/>
<circle cx="747.5" cy="686.3" r="2.9" fill="#000"/>
<circle cx="755.6" cy="686.3" r="2.9" fill="#fff"/>
<circle cx="756.9" cy="686.3" r="2.9" fill="#fff"/>
<circle cx="760" cy="686.3" r="2.9" fill="#fff"/>
<circle cx="765.6" cy="686.3" r="2.9" fill="#000"/>
<circle cx="768.1" cy="686.3" r="2.9" fill="#000"/>
<circle cx="773.1" cy="686.3" r="2.9" fill="#000"/>
<circle cx="778.1" cy="686.3" r="2.9" fill="#000"/>
<circle cx="778.75" cy="686.3" r="2.9" fill="#000"/>
<circle cx="780.6" cy="686.3" r="2.9" fill="#000"/>
<circle cx="783.5" cy="686.3" r="2.9" fill="#fff"/>
<circle cx="786" cy="686.3" r="2.9" fill="#fff"/>
<circle cx="790" cy="686.3" r="2.9" fill="#fff"/>
<circle cx="791.9" cy="686.3" r="2.9" fill="#000"/>
<circle cx="801.9" cy="686.3" r="2.9" fill="#000"/>
<circle cx="810.6" cy="686.3" r="2.9" fill="#fff"/>
<circle cx="814.4" cy="686.3" r="2.9" fill="#fff"/>
<circle cx="832.25" cy="686.3" r="2.9" fill="#000"/>
<circle cx="834.75" cy="686.3" r="2.9" fill="#000"/>
<circle cx="844" cy="686.3" r="2.9" fill="#fff"/>
<circle cx="846.25" cy="686.3" r="2.9" fill="#fff"/>
<circle cx="853.75" cy="686.3" r="2.9" fill="#000"/>
<circle cx="857.25" cy="686.3" r="2.9" fill="#000"/>
<circle cx="869.75" cy="686.3" r="2.9" fill="#fff"/>
<circle cx="873.1" cy="686.3" r="2.9" fill="#fff"/>
<circle cx="875.6" cy="686.3" r="2.9" fill="#fff"/>
<circle cx="885" cy="686.3" r="2.9" fill="#000"/>
<circle cx="891" cy="686.3" r="2.9" fill="#000"/>
<circle cx="893.1" cy="686.3" r="2.9" fill="#000"/>
<circle cx="896.9" cy="686.3" r="2.9" fill="#fff"/>
<circle cx="900" cy="686.3" r="2.9" fill="#fff"/>
<circle cx="908.1" cy="686.3" r="2.9" fill="#000"/>
<circle cx="911.25" cy="686.3" r="2.9" fill="#000"/>
<circle cx="917.5" cy="686.3" r="2.9" fill="#fff"/>
<circle cx="920.25" cy="686.3" r="2.9" fill="#fff"/>
<circle cx="922.5" cy="686.3" r="2.9" fill="#fff"/>
<circle cx="928" cy="686.3" r="2.9" fill="#fff"/>
<circle cx="929" cy="686.3" r="2.9" fill="#000"/>
<circle cx="933.2" cy="686.3" r="2.9" fill="#fff"/>
<circle cx="935.5" cy="686.3" r="2.9" fill="#000"/>
<circle cx="936.9" cy="686.3" r="2.9" fill="#fff"/>
<circle cx="939.4" cy="686.3" r="2.9" fill="#000"/>
<circle cx="941.8" cy="686.3" r="2.9" fill="#fff"/>
<circle cx="952.25" cy="686.3" r="2.9" fill="#000"/>
<circle cx="956.25" cy="686.3" r="2.9" fill="#fff"/>
<circle cx="960.5" cy="686.3" r="2.9" fill="#000"/>
<circle cx="963.1" cy="686.3" r="2.9" fill="#fff"/>
<circle cx="966.25" cy="686.3" r="2.9" fill="#000"/>
<circle cx="968.4" cy="686.3" r="2.9" fill="#fff"/>
<circle cx="970.6" cy="686.3" r="2.9" fill="#000"/>
<circle cx="974.3" cy="686.3" r="2.9" fill="#fff"/>
<circle cx="977.5" cy="686.3" r="2.9" fill="#000"/>
<circle cx="985.9" cy="686.3" r="2.9" fill="#fff"/>
<circle cx="992" cy="686.3" r="2.9" fill="#fff"/>
<circle cx="994" cy="686.3" r="2.9" fill="#fff"/>
<circle cx="1005.6" cy="686.3" r="2.9" fill="#000"/>
<circle cx="1009.4" cy="686.3" r="2.9" fill="#000"/>
<circle cx="1015" cy="686.3" r="2.9" fill="#000"/>
<circle cx="1023.1" cy="686.3" r="2.9" fill="#fff"/>
<circle cx="1025.6" cy="686.3" r="2.9" fill="#fff"/>
<circle cx="1039.75" cy="686.3" r="2.9" fill="#000"/>
<circle cx="1043.1" cy="686.3" r="2.9" fill="#000"/>
<circle cx="1055.6" cy="686.3" r="2.9" fill="#fff"/>
<circle cx="1058.75" cy="686.3" r="2.9" fill="#fff"/>
<circle cx="1066.25" cy="686.3" r="2.9" fill="#fff"/>
<circle cx="1071.9" cy="686.3" r="2.9" fill="#000"/>
<circle cx="1075" cy="686.3" r="2.9" fill="#000"/>
<circle cx="1081.25" cy="686.3" r="2.9" fill="#fff"/>
<circle cx="1083.4" cy="686.3" r="2.9" fill="#fff"/>
<circle cx="1087.2" cy="686.3" r="2.9" fill="#000"/>
<circle cx="1090.6" cy="686.3" r="2.9" fill="#000"/>
<circle cx="1095.4" cy="686.3" r="2.9" fill="#fff"/>
<circle cx="1098.2" cy="686.3" r="2.9" fill="#fff"/>
<circle cx="1103.1" cy="686.3" r="2.9" fill="#fff"/>
<circle cx="1106.5" cy="686.3" r="2.9" fill="#000"/>
<circle cx="1110.25" cy="686.3" r="2.9" fill="#fff"/>
<circle cx="1119" cy="686.3" r="2.9" fill="#000"/>
<circle cx="1125.6" cy="686.3" r="2.9" fill="#000"/>
<circle cx="1132.5" cy="686.3" r="2.9" fill="#fff"/>
<circle cx="1135" cy="686.3" r="2.9" fill="#fff"/>
<circle cx="1138.3" cy="686.3" r="2.9" fill="#fff"/>
<circle cx="1143.1" cy="686.3" r="2.9" fill="#000"/>
<circle cx="1145.6" cy="686.3" r="2.9" fill="#000"/>
<circle cx="1147.5" cy="686.3" r="2.9" fill="#000"/>
<circle cx="1156.9" cy="686.3" r="2.9" fill="#fff"/>
<circle cx="1158.5" cy="686.3" r="2.9" fill="#fff"/>
<circle cx="1168.5" cy="686.3" r="2.9" fill="#000"/>
<circle cx="1171.25" cy="686.3" r="2.9" fill="#000"/>
<circle cx="1173.75" cy="686.3" r="2.9" fill="#000"/>
<circle cx="1181.9" cy="686.3" r="2.9" fill="#fff"/>
<circle cx="1186.25" cy="686.3" r="2.9" fill="#000"/>
<circle cx="1189.4" cy="686.3" r="2.9" fill="#000"/>
<circle cx="1191.9" cy="686.3" r="2.9" fill="#000"/>
<circle cx="1194.4" cy="686.3" r="2.9" fill="#fff"/>
<circle cx="1195.6" cy="686.3" r="2.9" fill="#fff"/>
<circle cx="1200" cy="686.3" r="2.9" fill="#000"/>
<circle cx="1203.1" cy="686.3" r="2.9" fill="#fff"/>
<circle cx="1205.6" cy="686.3" r="2.9" fill="#000"/>
</g>
<g font-size="13.2" text-anchor="middle" fill="#000" stroke="#000" stroke-width="0.45">
<text transform="translate(144.1 714.8) rotate(-90) scale(1 1.06)">G150</text>
<text transform="translate(154.1 658) rotate(-90) scale(1 1.06)">G135</text>
<text transform="translate(160.1 714.8) rotate(-90) scale(1 1.06)">G180</text>
<text transform="translate(172.1 658) rotate(-90) scale(1 1.06)">H2O2</text>
<text transform="translate(179.1 714.8) rotate(-90) scale(1 1.06)">Paraq</text>
<text transform="translate(189.1 658) rotate(-90) scale(1 1.06)">Oxctl</text>
<text transform="translate(198.1 714.8) rotate(-90) scale(1 1.06)">LBGexp</text>
<text transform="translate(212.1 658) rotate(-90) scale(1 1.06)">dia15</text>
<text transform="translate(227.1 714.8) rotate(-90) scale(1 1.06)">Diami</text>
<text transform="translate(239.1 658) rotate(-90) scale(1 1.06)">dia5</text>
<text transform="translate(255.1 714.8) rotate(-90) scale(1 1.06)">C90</text>
<text transform="translate(268.1 658) rotate(-90) scale(1 1.06)">C30</text>
<text transform="translate(283.1 714.8) rotate(-90) scale(1 1.06)">Cold</text>
<text transform="translate(297 658) rotate(-90) scale(1 1.06)">LPh</text>
<text transform="translate(305.1 714.8) rotate(-90) scale(1 1.06)">HPh</text>
<text transform="translate(315.1 658) rotate(-90) scale(1 1.06)">aero</text>
<text transform="translate(333.1 714.8) rotate(-90) scale(1 1.06)">nit</text>
<text transform="translate(343.85 658) rotate(-90) scale(1 1.06)">ferm</text>
<text transform="translate(362 714.8) rotate(-90) scale(1 1.06)">GM+150</text>
<text transform="translate(367 658) rotate(-90) scale(1 1.06)">M9-tran</text>
<text transform="translate(375.7 714.8) rotate(-90) scale(1 1.06)">MG+150</text>
<text transform="translate(383.85 658) rotate(-90) scale(1 1.06)">MG+120</text>
<text transform="translate(548.85 714.8) rotate(-90) scale(1 1.06)">M/G</text>
<text transform="translate(562.6 658) rotate(-90) scale(1 1.06)">Mal</text>
<text transform="translate(575.1 714.8) rotate(-90) scale(1 1.06)">Fru</text>
<text transform="translate(582 658) rotate(-90) scale(1 1.06)">Glu</text>
<text transform="translate(590.7 714.8) rotate(-90) scale(1 1.06)">SMM</text>
<text transform="translate(598.85 658) rotate(-90) scale(1 1.06)">BMM</text>
<text transform="translate(609.5 714.8) rotate(-90) scale(1 1.06)">Heat</text>
<text transform="translate(625.1 658) rotate(-90) scale(1 1.06)">Etha</text>
<text transform="translate(640.7 714.8) rotate(-90) scale(1 1.06)">Salt</text>
<text transform="translate(653.85 658) rotate(-90) scale(1 1.06)">Gly</text>
<text transform="translate(668.1 714.8) rotate(-90) scale(1 1.06)">HiTm</text>
<text transform="translate(687.6 658) rotate(-90) scale(1 1.06)">HiOs</text>
<text transform="translate(700.7 714.8) rotate(-90) scale(1 1.06)">S1</text>
<text transform="translate(713.1 658) rotate(-90) scale(1 1.06)">S2</text>
<text transform="translate(730.7 714.8) rotate(-90) scale(1 1.06)">S3</text>
<text transform="translate(742.35 658) rotate(-90) scale(1 1.06)">S4</text>
<text transform="translate(752.85 714.8) rotate(-90) scale(1 1.06)">S3</text>
<text transform="translate(761.1 658) rotate(-90) scale(1 1.06)">S5</text>
<text transform="translate(771.35 714.8) rotate(-90) scale(1 1.06)">S6</text>
<text transform="translate(790.1 658) rotate(-90) scale(1 1.06)">S7</text>
<text transform="translate(797.6 714.8) rotate(-90) scale(1 1.06)">S8</text>
<text transform="translate(817 658) rotate(-90) scale(1 1.06)">S6</text>
<text transform="translate(837.6 714.8) rotate(-90) scale(1 1.06)">BT</text>
<text transform="translate(849.5 658) rotate(-90) scale(1 1.06)">B36</text>
<text transform="translate(858.85 714.8) rotate(-90) scale(1 1.06)">B60</text>
<text transform="translate(875.7 658) rotate(-90) scale(1 1.06)">LoTm</text>
<text transform="translate(890.1 714.8) rotate(-90) scale(1 1.06)">Pyr</text>
<text transform="translate(902 658) rotate(-90) scale(1 1.06)">G/S</text>
<text transform="translate(913.85 714.8) rotate(-90) scale(1 1.06)">Glucon</text>
<text transform="translate(923.5 658) rotate(-90) scale(1 1.06)">SMMPr</text>
<text transform="translate(932.1 714.8) rotate(-90) scale(1 1.06)">T-5.40H</text>
<text transform="translate(933.85 658) rotate(-90) scale(1 1.06)">T-4.40H</text>
<text transform="translate(938.1 714.8) rotate(-90) scale(1 1.06)">T-3.40H</text>
<text transform="translate(940.1 658) rotate(-90) scale(1 1.06)">T-2.40H</text>
<text transform="translate(943.85 714.8) rotate(-90) scale(1 1.06)">T-1.40H</text>
<text transform="translate(944.6 658) rotate(-90) scale(1 1.06)">T-1.10H</text>
<text transform="translate(947.1 714.8) rotate(-90) scale(1 1.06)">T-0.40H</text>
<text transform="translate(948.85 658) rotate(-90) scale(1 1.06)">T0.0H</text>
<text transform="translate(955.1 714.8) rotate(-90) scale(1 1.06)">T0.30H</text>
<text transform="translate(960.7 658) rotate(-90) scale(1 1.06)">T1.0H</text>
<text transform="translate(963.1 714.8) rotate(-90) scale(1 1.06)">T1.30H</text>
<text transform="translate(968.85 658) rotate(-90) scale(1 1.06)">T2.0H</text>
<text transform="translate(970.1 714.8) rotate(-90) scale(1 1.06)">T2.30H</text>
<text transform="translate(975.1 658) rotate(-90) scale(1 1.06)">T3.0H</text>
<text transform="translate(976.35 714.8) rotate(-90) scale(1 1.06)">T3.30H</text>
<text transform="translate(980.7 658) rotate(-90) scale(1 1.06)">T4.0H</text>
<text transform="translate(983.85 714.8) rotate(-90) scale(1 1.06)">T5.0H</text>
<text transform="translate(991.35 658) rotate(-90) scale(1 1.06)">M9-stat</text>
<text transform="translate(1010.7 714.8) rotate(-90) scale(1 1.06)">BC</text>
<text transform="translate(1027.6 658) rotate(-90) scale(1 1.06)">Sw</text>
<text transform="translate(1044.5 714.8) rotate(-90) scale(1 1.06)">LPhT</text>
<text transform="translate(1061.35 658) rotate(-90) scale(1 1.06)">LBGstat</text>
<text transform="translate(1077.1 714.8) rotate(-90) scale(1 1.06)">LBGtran</text>
<text transform="translate(1086.35 658) rotate(-90) scale(1 1.06)">M0t45</text>
<text transform="translate(1092.6 714.8) rotate(-90) scale(1 1.06)">M40t45</text>
<text transform="translate(1101.35 658) rotate(-90) scale(1 1.06)">Lbtran</text>
<text transform="translate(1111.35 714.8) rotate(-90) scale(1 1.06)">Mt0</text>
<text transform="translate(1115.1 658) rotate(-90) scale(1 1.06)">M40t45</text>
<text transform="translate(1124.5 714.8) rotate(-90) scale(1 1.06)">M40t90</text>
<text transform="translate(1137.6 658) rotate(-90) scale(1 1.06)">M0t90</text>
<text transform="translate(1149.5 714.8) rotate(-90) scale(1 1.06)">Lbstat</text>
<text transform="translate(1162.1 658) rotate(-90) scale(1 1.06)">BI</text>
<text transform="translate(1173.1 714.8) rotate(-90) scale(1 1.06)">S0</text>
<text transform="translate(1188.1 658) rotate(-90) scale(1 1.06)">M0t45</text>
<text transform="translate(1191.35 714.8) rotate(-90) scale(1 1.06)">dia0</text>
<text transform="translate(1200.7 658) rotate(-90) scale(1 1.06)">Lbexp</text>
<text transform="translate(1204.5 714.8) rotate(-90) scale(1 1.06)">Mt0</text>
<text transform="translate(1208.1 658) rotate(-90) scale(1 1.06)">Lbexp</text>
<text transform="translate(1210.7 714.8) rotate(-90) scale(1 1.06)">Mt0</text>
<text transform="translate(393.1 658) rotate(-90) scale(1 1.06)">MG+60</text>
<text transform="translate(397.1 658) rotate(-90) scale(1 1.06)">MG+90</text>
<text transform="translate(403.6 658) rotate(-90) scale(1 1.06)">MG+25</text>
<text transform="translate(408.1 658) rotate(-90) scale(1 1.06)">MG+45</text>
<text transform="translate(414.6 658) rotate(-90) scale(1 1.06)">MG+15</text>
<text transform="translate(419.1 658) rotate(-90) scale(1 1.06)">MG+t5</text>
<text transform="translate(425.1 658) rotate(-90) scale(1 1.06)">MG+10</text>
<text transform="translate(430.1 658) rotate(-90) scale(1 1.06)">MG+5</text>
<text transform="translate(435.6 658) rotate(-90) scale(1 1.06)">MG+t5</text>
<text transform="translate(442.1 658) rotate(-90) scale(1 1.06)">MG-0.2</text>
<text transform="translate(448.6 658) rotate(-90) scale(1 1.06)">MG-0.2</text>
<text transform="translate(455.6 658) rotate(-90) scale(1 1.06)">Fru</text>
<text transform="translate(466.1 658) rotate(-90) scale(1 1.06)">GM-0.2</text>
<text transform="translate(472.1 658) rotate(-90) scale(1 1.06)">GM-0.2</text>
<text transform="translate(477.6 658) rotate(-90) scale(1 1.06)">GM+15</text>
<text transform="translate(482.1 658) rotate(-90) scale(1 1.06)">GM+10</text>
<text transform="translate(488.1 658) rotate(-90) scale(1 1.06)">GM+25</text>
<text transform="translate(492.6 658) rotate(-90) scale(1 1.06)">GM+45</text>
<text transform="translate(498.1 658) rotate(-90) scale(1 1.06)">GM+60</text>
<text transform="translate(503.1 658) rotate(-90) scale(1 1.06)">GM+90</text>
<text transform="translate(508.6 658) rotate(-90) scale(1 1.06)">GM+25</text>
<text transform="translate(513.85 658) rotate(-90) scale(1 1.06)">GM+150</text>
<text transform="translate(520.1 658) rotate(-90) scale(1 1.06)">GM+60</text>
<text transform="translate(524.6 658) rotate(-90) scale(1 1.06)">GM+90</text>
<text transform="translate(530.1 658) rotate(-90) scale(1 1.06)">GM+45</text>
<text transform="translate(534.1 658) rotate(-90) scale(1 1.06)">GM+60</text>
<text transform="translate(540.7 658) rotate(-90) scale(1 1.06)">M9-exp</text>
<text transform="translate(390.1 714.8) rotate(-90) scale(1 1.06)">MG+90</text>
<text transform="translate(394.6 714.8) rotate(-90) scale(1 1.06)">MG+25</text>
<text transform="translate(400.6 714.8) rotate(-90) scale(1 1.06)">MG+45</text>
<text transform="translate(405.1 714.8) rotate(-90) scale(1 1.06)">MG+10</text>
<text transform="translate(411.1 714.8) rotate(-90) scale(1 1.06)">MG+15</text>
<text transform="translate(415.6 714.8) rotate(-90) scale(1 1.06)">MG+t5</text>
<text transform="translate(421.6 714.8) rotate(-90) scale(1 1.06)">MG+25</text>
<text transform="translate(426.1 714.8) rotate(-90) scale(1 1.06)">MG+5</text>
<text transform="translate(432.1 714.8) rotate(-90) scale(1 1.06)">MG+t5</text>
<text transform="translate(436.6 714.8) rotate(-90) scale(1 1.06)">MG+t5</text>
<text transform="translate(442.1 714.8) rotate(-90) scale(1 1.06)">MG-0.1</text>
<text transform="translate(447.1 714.8) rotate(-90) scale(1 1.06)">MG-0.1</text>
<text transform="translate(452.6 714.8) rotate(-90) scale(1 1.06)">MtK1</text>
<text transform="translate(460.1 714.8) rotate(-90) scale(1 1.06)">Glucon</text>
<text transform="translate(467.1 714.8) rotate(-90) scale(1 1.06)">GM-0.1</text>
<text transform="translate(472.6 714.8) rotate(-90) scale(1 1.06)">GM-0.1</text>
<text transform="translate(478.1 714.8) rotate(-90) scale(1 1.06)">GM+5</text>
<text transform="translate(482.6 714.8) rotate(-90) scale(1 1.06)">GM+10</text>
<text transform="translate(488.6 714.8) rotate(-90) scale(1 1.06)">GM+25</text>
<text transform="translate(493.1 714.8) rotate(-90) scale(1 1.06)">GM+45</text>
<text transform="translate(499.1 714.8) rotate(-90) scale(1 1.06)">GM+60</text>
<text transform="translate(504.1 714.8) rotate(-90) scale(1 1.06)">GM+25</text>
<text transform="translate(510.1 714.8) rotate(-90) scale(1 1.06)">GM+120</text>
<text transform="translate(516.1 714.8) rotate(-90) scale(1 1.06)">GM+150</text>
<text transform="translate(522.1 714.8) rotate(-90) scale(1 1.06)">GM+90</text>
<text transform="translate(526.6 714.8) rotate(-90) scale(1 1.06)">GM+45</text>
<text transform="translate(531.6 714.8) rotate(-90) scale(1 1.06)">GM+25</text>
<text transform="translate(535.6 714.8) rotate(-90) scale(1 1.06)">GM+5</text>
</g>
<g font-size="26.4" fill="#00ff00" stroke="#00ff00" stroke-width="0.5">
<text x="886.5" y="464.6" font-size="26.6">clusters</text>
<text x="967.7" y="500.2" font-size="25.8">A35 size: 1</text>
<text x="967" y="532" font-size="26.7">B21 size: 80</text>
<text x="967.2" y="564.2" font-size="26.7">C3 size: 1383</text>
</g>
<g fill="none" stroke="#00ff00" stroke-width="4.1" stroke-linecap="round">
<path d="M894.7 490.6 h0.2 M908 490.6 h0.2 M921.3 490.6 h0.2 M934.7 490.6 h0.2"/>
<path d="M895 522.5 H904.9 M921.6 522.5 H931.5"/>
<path d="M895 554.6 H942.5"/>
</g>
</g>
</svg>
</body></html>
